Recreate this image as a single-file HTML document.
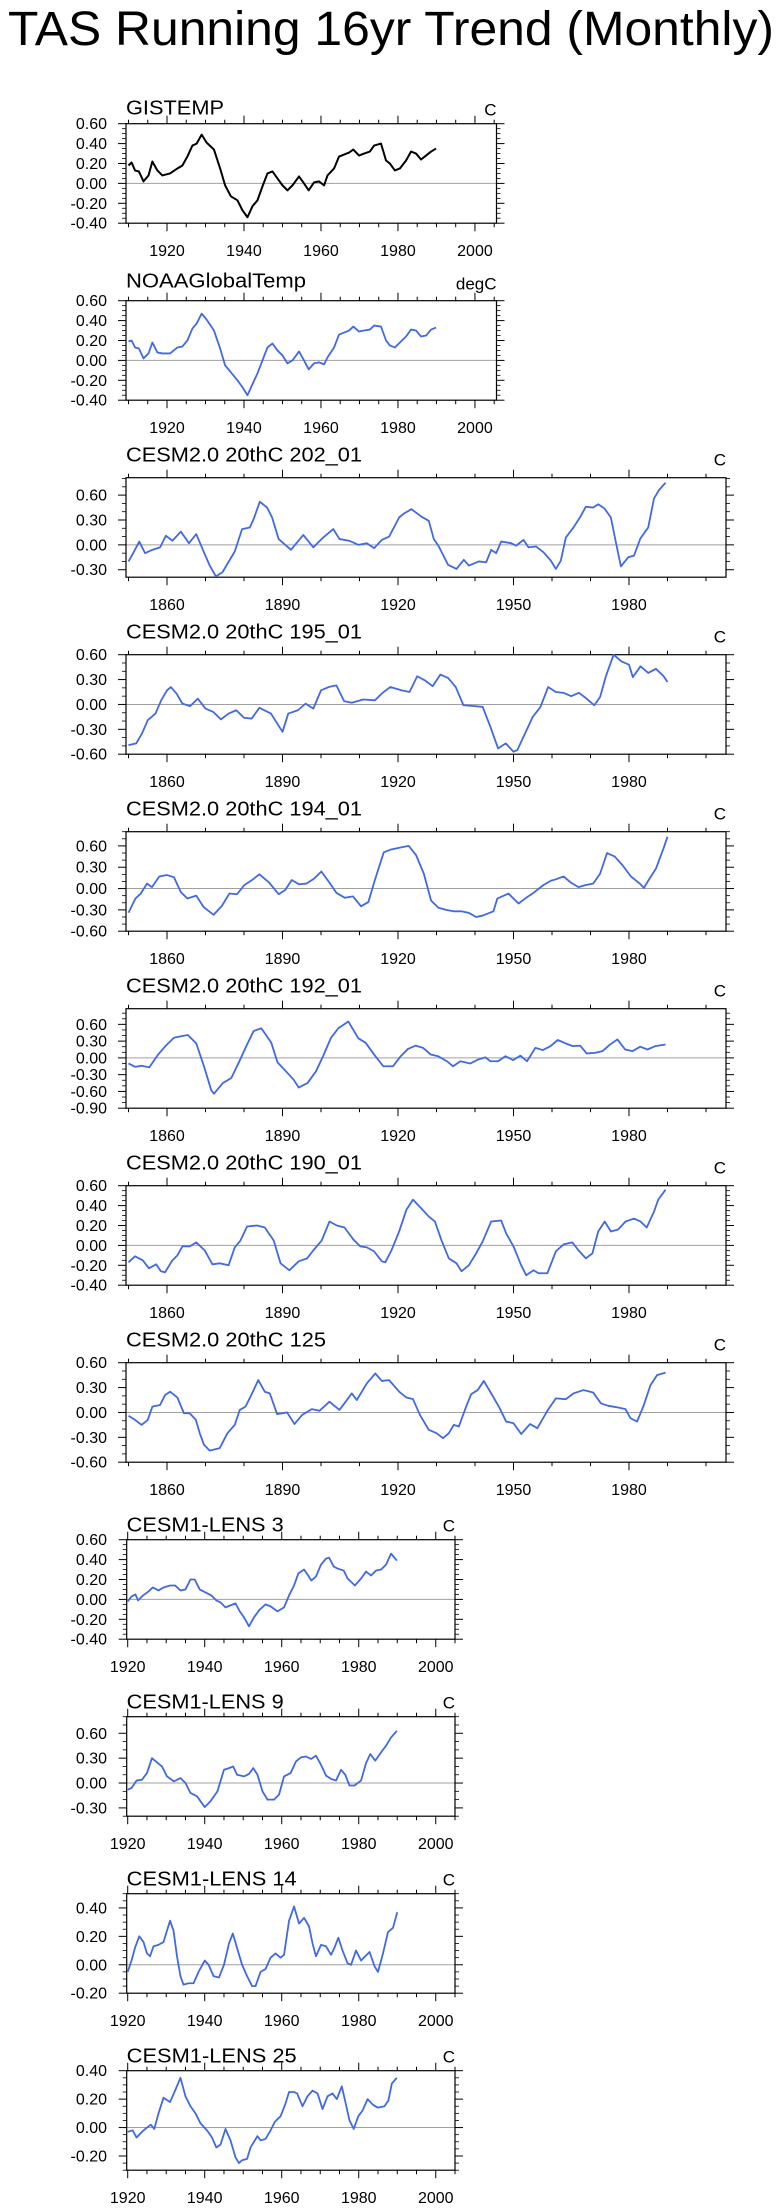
<!DOCTYPE html>
<html><head><meta charset="utf-8">
<style>
html,body{margin:0;padding:0;background:#fff;}
svg{display:block;font-family:"Liberation Sans",Arial,sans-serif;}
</style></head>
<body>
<svg id="chart" width="780" height="2210" viewBox="0 0 780 2210" xmlns="http://www.w3.org/2000/svg">
<text x="8" y="45" font-size="48" textLength="766" lengthAdjust="spacingAndGlyphs">TAS Running 16yr Trend (Monthly)</text>
</svg>
<script>
// ---- data (year, value) ----
const obsYears=[1910.0,1910.8,1911.7,1912.7,1913.9,1915.2,1916.2,1917.5,1918.8,1920.8,1922.7,1924.0,1925.3,1926.6,1927.7,1929.0,1930.3,1932.2,1933.8,1935.1,1936.6,1938.3,1939.6,1940.9,1942.2,1943.5,1944.8,1946.1,1947.4,1948.7,1950.0,1951.3,1952.6,1954.3,1955.6,1956.8,1958.2,1959.5,1960.8,1961.7,1963.4,1964.7,1966.0,1967.3,1968.4,1969.9,1971.2,1972.7,1973.8,1975.6,1976.9,1977.9,1979.2,1980.5,1982.1,1983.4,1984.7,1986.0,1987.3,1988.6,1989.9];
const gistempValues=[0.18,0.21,0.13,0.12,0.02,0.08,0.22,0.13,0.08,0.10,0.15,0.18,0.27,0.38,0.40,0.49,0.41,0.34,0.15,-0.02,-0.13,-0.17,-0.27,-0.34,-0.23,-0.17,-0.03,0.10,0.12,0.05,-0.02,-0.07,-0.02,0.07,0.00,-0.07,0.01,0.02,-0.02,0.08,0.15,0.27,0.29,0.31,0.34,0.28,0.30,0.32,0.38,0.40,0.23,0.20,0.13,0.15,0.23,0.32,0.30,0.24,0.28,0.32,0.35];
const noaaValues=[0.19,0.20,0.13,0.12,0.02,0.07,0.18,0.08,0.07,0.07,0.13,0.14,0.20,0.32,0.37,0.47,0.41,0.30,0.12,-0.05,-0.12,-0.20,-0.27,-0.35,-0.24,-0.13,0.00,0.13,0.17,0.10,0.05,-0.03,0.00,0.09,0.00,-0.09,-0.03,-0.02,-0.04,0.03,0.13,0.26,0.28,0.30,0.34,0.29,0.30,0.31,0.35,0.34,0.20,0.15,0.13,0.18,0.24,0.31,0.30,0.24,0.25,0.31,0.33];

const c202Years=[1850.0,1851.1,1852.8,1854.3,1856.2,1858.2,1859.7,1861.4,1863.6,1865.7,1867.6,1869.6,1871.1,1872.7,1874.4,1877.6,1879.5,1881.5,1882.5,1884.1,1886.0,1887.3,1889.0,1892.2,1895.4,1898.0,1900.6,1903.2,1904.8,1907.3,1909.7,1911.9,1913.8,1915.8,1917.7,1920.3,1921.6,1923.5,1926.1,1928.0,1929.3,1930.6,1933.0,1935.2,1937.1,1938.4,1941.0,1942.9,1944.2,1945.5,1946.8,1949.4,1950.7,1952.6,1953.9,1955.9,1957.8,1959.7,1961.0,1962.3,1963.6,1965.6,1967.5,1968.8,1970.7,1972.0,1973.6,1975.3,1976.6,1977.9,1979.8,1981.3,1983.0,1985.0,1986.5,1987.8,1989.5];
const c202Values=[-0.20,-0.11,0.04,-0.10,-0.06,-0.03,0.11,0.05,0.16,0.02,0.13,-0.09,-0.25,-0.38,-0.33,-0.08,0.19,0.21,0.31,0.52,0.45,0.33,0.07,-0.06,0.12,-0.03,0.09,0.19,0.07,0.05,0.00,0.02,-0.04,0.06,0.10,0.33,0.38,0.43,0.34,0.29,0.07,-0.02,-0.24,-0.29,-0.18,-0.25,-0.20,-0.21,-0.06,-0.10,0.04,0.02,-0.01,0.06,-0.03,-0.02,-0.09,-0.19,-0.29,-0.19,0.09,0.21,0.35,0.46,0.45,0.49,0.44,0.33,0.03,-0.26,-0.15,-0.13,0.08,0.21,0.56,0.66,0.75];

const c195Years=[1850,1852,1853.5,1855,1857,1858.5,1860,1861,1862.5,1864,1866,1868,1870,1872,1874,1876,1878,1880,1882,1884,1887,1890,1891.5,1894,1896,1898,1900,1902,1904,1906,1908,1911,1914,1916,1918,1921,1923,1925,1927,1929,1931,1933,1935,1937,1940,1942,1944,1946,1948,1950,1951,1953,1955,1957,1959,1961,1963,1965,1967,1969,1971,1972.5,1974,1976,1978,1980,1981,1983,1985,1987,1989,1990];
const c195Values=[-0.49,-0.47,-0.35,-0.19,-0.11,0.05,0.17,0.21,0.13,0.01,-0.02,0.07,-0.05,-0.09,-0.18,-0.11,-0.07,-0.16,-0.17,-0.04,-0.11,-0.33,-0.11,-0.07,0.01,-0.05,0.17,0.21,0.23,0.04,0.02,0.06,0.05,0.14,0.21,0.17,0.15,0.34,0.29,0.22,0.36,0.32,0.21,-0.01,-0.02,-0.03,-0.27,-0.53,-0.47,-0.57,-0.55,-0.35,-0.15,-0.03,0.21,0.15,0.14,0.10,0.14,0.07,-0.01,0.09,0.34,0.60,0.52,0.48,0.33,0.46,0.38,0.43,0.34,0.27];

const c194Years=[1850,1851.8,1853.2,1854.8,1856.1,1858,1860,1861.8,1863.6,1865.3,1867.6,1869.5,1872.1,1874.3,1876.2,1878.2,1880.1,1882.1,1884,1886.6,1889,1890.7,1892.4,1894.3,1896.2,1898.2,1900.1,1902.1,1904,1906.2,1908.3,1910.4,1912.3,1914,1916.3,1918.2,1920.8,1922.8,1924.7,1926.7,1928.6,1930.5,1932.5,1934.4,1936.4,1938.3,1940.3,1942,1944.8,1945.8,1948.7,1951.3,1953.3,1955.2,1957.8,1959.7,1961,1963,1965,1966.9,1968.8,1970.7,1972.5,1974.3,1976.3,1978.3,1980.5,1982.8,1983.9,1985,1987,1989,1990];
const c194Values=[-0.34,-0.14,-0.07,0.07,0.02,0.17,0.19,0.16,-0.05,-0.14,-0.10,-0.26,-0.37,-0.24,-0.07,-0.08,0.05,0.12,0.20,0.08,-0.08,-0.02,0.12,0.06,0.07,0.14,0.24,0.09,-0.06,-0.13,-0.11,-0.25,-0.19,0.12,0.51,0.55,0.58,0.60,0.47,0.21,-0.17,-0.27,-0.30,-0.32,-0.32,-0.34,-0.40,-0.38,-0.32,-0.14,-0.07,-0.21,-0.13,-0.06,0.05,0.11,0.13,0.17,0.08,0.02,0.05,0.07,0.21,0.50,0.45,0.33,0.17,0.07,0.01,0.11,0.28,0.57,0.73];

const c192Years=[1850,1851.7,1853.4,1855.4,1857.7,1859.7,1861.8,1863.8,1865.4,1867.6,1869.6,1871.5,1872.2,1874.5,1876.7,1878.6,1880.6,1882.5,1884.5,1887.1,1888.7,1890.9,1892.9,1894.2,1896.5,1898.7,1900.6,1902.6,1904.5,1907.1,1909.7,1911.6,1913.8,1916.2,1918.7,1920.7,1922.6,1924.6,1926.5,1928.5,1930.4,1932.7,1934.3,1936.2,1938.8,1940.8,1942.7,1944,1946,1947.9,1949.9,1951.8,1953.5,1955.7,1957.6,1959.6,1961.5,1963.5,1965.4,1967.3,1969,1971.2,1973.1,1975.1,1977,1979,1980.9,1982.9,1984.8,1986.8,1989.5];
const c192Values=[-0.10,-0.16,-0.14,-0.17,0.06,0.22,0.36,0.39,0.41,0.26,-0.15,-0.58,-0.64,-0.45,-0.36,-0.09,0.21,0.48,0.53,0.27,-0.08,-0.24,-0.39,-0.53,-0.45,-0.24,0.04,0.36,0.53,0.65,0.35,0.27,0.06,-0.15,-0.15,0.03,0.16,0.22,0.18,0.06,0.03,-0.06,-0.15,-0.06,-0.10,-0.03,0.01,-0.06,-0.06,0.03,-0.04,0.04,-0.06,0.18,0.14,0.21,0.32,0.26,0.21,0.22,0.08,0.09,0.12,0.24,0.33,0.15,0.12,0.20,0.15,0.21,0.24];

const c190Years=[1850.0,1851.7,1853.7,1855.3,1857.2,1858.4,1859.5,1861.4,1862.7,1864.0,1865.9,1867.6,1869.8,1871.8,1873.7,1876.0,1877.6,1879.1,1880.8,1883.4,1885.4,1887.7,1889.5,1891.8,1894.2,1896.4,1898.0,1900.2,1902.2,1904.1,1906.1,1908.4,1910.2,1911.9,1913.8,1915.8,1916.7,1918.3,1920.3,1922.2,1923.9,1926.1,1928.0,1929.6,1931.3,1933.2,1935.2,1936.5,1938.4,1940.3,1942.0,1944.2,1946.8,1948.1,1950.0,1952.0,1953.3,1955.2,1956.5,1958.8,1961.0,1963.0,1965.3,1966.9,1968.8,1970.5,1972.0,1973.7,1975.3,1977.2,1979.1,1981.3,1983.0,1984.6,1986.5,1987.6,1989.5];
const c190Values=[-0.17,-0.11,-0.15,-0.23,-0.19,-0.26,-0.27,-0.15,-0.10,-0.01,-0.01,0.03,-0.05,-0.19,-0.18,-0.20,-0.02,0.05,0.19,0.20,0.18,0.05,-0.18,-0.25,-0.16,-0.13,-0.05,0.05,0.24,0.20,0.18,0.06,-0.01,-0.02,-0.06,-0.16,-0.17,-0.05,0.14,0.36,0.46,0.37,0.29,0.24,0.05,-0.13,-0.18,-0.26,-0.20,-0.08,0.04,0.24,0.25,0.12,-0.01,-0.20,-0.30,-0.25,-0.28,-0.28,-0.06,0.01,0.03,-0.05,-0.13,-0.08,0.14,0.24,0.14,0.16,0.24,0.27,0.24,0.18,0.34,0.46,0.56];

const c125Years=[1850.0,1851.7,1853.4,1855.0,1856.2,1858.2,1859.5,1860.8,1862.7,1864.4,1865.9,1867.5,1868.5,1869.6,1871.1,1873.7,1875.7,1877.6,1878.9,1880.4,1882.1,1883.7,1885.4,1886.7,1888.6,1891.2,1893.1,1895.1,1897.6,1899.6,1902.2,1904.8,1908.0,1909.3,1911.9,1914.1,1915.8,1917.7,1920.3,1922.2,1923.9,1925.7,1928.0,1930.0,1931.7,1933.2,1934.5,1935.8,1937.7,1939.0,1940.7,1942.3,1944.2,1946.2,1948.1,1950.0,1952.0,1954.3,1956.2,1958.8,1961.0,1963.6,1965.6,1968.2,1970.7,1972.7,1974.6,1977.2,1979.1,1980.4,1982.1,1983.7,1985.6,1987.3,1989.5];
const c125Values=[-0.04,-0.09,-0.15,-0.09,0.07,0.09,0.21,0.25,0.18,-0.01,-0.01,-0.09,-0.25,-0.39,-0.46,-0.43,-0.25,-0.15,0.03,0.07,0.23,0.39,0.25,0.23,-0.02,0.00,-0.14,-0.03,0.04,0.02,0.13,0.03,0.23,0.15,0.35,0.47,0.38,0.39,0.25,0.18,0.16,-0.03,-0.21,-0.25,-0.31,-0.25,-0.15,-0.17,0.07,0.22,0.27,0.38,0.23,0.07,-0.11,-0.13,-0.26,-0.14,-0.19,0.02,0.17,0.16,0.23,0.27,0.24,0.11,0.08,0.06,0.04,-0.07,-0.11,0.07,0.33,0.45,0.48];

const l3Years=[1920,1921,1922,1922.7,1924,1925.4,1926.5,1928,1929.3,1931,1932.3,1933.7,1935,1936.3,1937.4,1938.7,1940.2,1941.7,1943,1944.1,1945.4,1946.7,1948,1949.1,1950.2,1951.5,1952.8,1954.1,1955.8,1957.1,1958.9,1960.6,1961.9,1963.2,1964.3,1965.8,1966.7,1967.7,1968.9,1970.2,1971.5,1972.3,1973.5,1974.5,1976.1,1977.1,1979,1980.6,1981.9,1983.2,1984.5,1985.8,1987.1,1988.4,1989.9];
const l3Values=[-0.02,0.03,0.05,-0.01,0.04,0.08,0.12,0.09,0.12,0.14,0.14,0.09,0.10,0.20,0.20,0.10,0.07,0.04,-0.01,-0.03,-0.08,-0.06,-0.04,-0.12,-0.18,-0.27,-0.18,-0.11,-0.05,-0.07,-0.12,-0.08,0.04,0.14,0.26,0.30,0.25,0.19,0.23,0.35,0.41,0.42,0.33,0.31,0.29,0.21,0.14,0.21,0.28,0.24,0.29,0.30,0.35,0.46,0.39];

const l9Years=[1920,1921,1922.3,1923.7,1925,1926.3,1927.6,1928.9,1930.2,1932,1933.7,1935,1936.3,1938,1940,1941.5,1943.3,1945,1946.3,1947.4,1948.4,1950.2,1951.5,1952.6,1953.7,1955,1956.3,1958,1959.3,1960.6,1962.3,1963.7,1965,1966.3,1967.6,1968.9,1970.2,1971.5,1972.8,1974.1,1975.4,1976.5,1977.6,1978.9,1980.6,1981.9,1983,1984.3,1985.8,1987.1,1988.4,1989.9];
const l9Values=[-0.08,-0.06,0.03,0.04,0.12,0.30,0.25,0.20,0.08,0.02,0.06,0.00,-0.12,-0.16,-0.29,-0.22,-0.10,0.16,0.18,0.20,0.10,0.08,0.11,0.18,0.10,-0.10,-0.20,-0.20,-0.14,0.08,0.12,0.26,0.31,0.32,0.29,0.33,0.22,0.09,0.05,0.03,0.16,0.10,-0.03,-0.03,0.03,0.24,0.35,0.27,0.37,0.45,0.55,0.63];

const l14Years=[1920,1921,1921.9,1923,1924.1,1925,1925.8,1926.7,1928,1929.3,1930.2,1931,1931.9,1932.8,1933.7,1934.5,1935.8,1937.1,1938.4,1940,1941,1942.3,1943.7,1945,1946.3,1947.3,1948.6,1949.7,1951,1952.3,1953.2,1954.5,1955.8,1957.1,1958.4,1959.7,1960.6,1961.9,1963.2,1964.5,1965.8,1967.1,1968,1968.9,1970.2,1971.5,1972.8,1973.7,1974.7,1975.8,1977.1,1978,1979.3,1980.6,1982.8,1984.1,1985,1986.3,1987.6,1988.9,1990];
const l14Values=[-0.05,0.03,0.12,0.20,0.16,0.08,0.06,0.13,0.14,0.16,0.24,0.31,0.24,0.06,-0.08,-0.14,-0.13,-0.13,-0.05,0.03,0.00,-0.08,-0.09,0.00,0.15,0.22,0.10,0.00,-0.08,-0.15,-0.15,-0.05,-0.03,0.05,0.08,0.05,0.07,0.31,0.41,0.29,0.33,0.27,0.15,0.06,0.14,0.13,0.07,0.12,0.19,0.10,0.01,0.00,0.10,0.03,0.09,-0.01,-0.05,0.08,0.23,0.26,0.37];

const l25Years=[1920,1921.3,1922.3,1923.7,1925,1926,1926.9,1928,1929.3,1931,1932.3,1933.7,1935,1936.3,1937.6,1938.9,1940.6,1941.9,1943,1944.1,1945.4,1946.7,1948,1948.9,1949.7,1951,1951.9,1953.7,1954.5,1955.8,1957.1,1958.2,1959.7,1961,1961.9,1963.2,1964,1965.4,1966.7,1968,1969.3,1970.6,1971.9,1973.2,1974.3,1975.6,1976.7,1977.6,1978.7,1979.9,1981,1982.3,1983.7,1985,1986.7,1987.7,1988.6,1989.9];
const l25Values=[-0.03,-0.02,-0.07,-0.03,0.00,0.02,-0.01,0.10,0.21,0.18,0.26,0.35,0.22,0.15,0.10,0.03,-0.02,-0.07,-0.14,-0.12,-0.01,-0.09,-0.21,-0.25,-0.23,-0.22,-0.14,-0.06,-0.09,-0.08,-0.02,0.04,0.08,0.17,0.25,0.25,0.24,0.15,0.22,0.26,0.24,0.13,0.22,0.24,0.20,0.29,0.16,0.05,-0.01,0.08,0.12,0.20,0.16,0.14,0.15,0.19,0.31,0.35];

const panelTitles=["GISTEMP","NOAAGlobalTemp","CESM2.0 20thC 202_01","CESM2.0 20thC 195_01","CESM2.0 20thC 194_01","CESM2.0 20thC 192_01","CESM2.0 20thC 190_01","CESM2.0 20thC 125","CESM1-LENS 3","CESM1-LENS 9","CESM1-LENS 14","CESM1-LENS 25"];
const panelUnits=["C","degC","C","C","C","C","C","C","C","C","C","C"];
const yMins=[-0.4,-0.4,-0.39,-0.6,-0.6,-0.9,-0.4,-0.6,-0.4,-0.4,-0.2,-0.3];
const yMaxs=[0.6,0.6,0.81,0.6,0.8,0.88,0.6,0.6,0.6,0.8,0.5,0.4];
const yMajorSteps=[0.2,0.2,0.3,0.3,0.3,0.3,0.2,0.3,0.2,0.3,0.2,0.2];
const seriesYears=[obsYears,obsYears,c202Years,c195Years,c194Years,c192Years,c190Years,c125Years,l3Years,l9Years,l14Years,l25Years];
const seriesValues=[gistempValues,noaaValues,c202Values,c195Values,c194Values,c192Values,c190Values,c125Values,l3Values,l9Values,l14Values,l25Values];

// ---- layout ----
const NS="http://www.w3.org/2000/svg";
const svg=document.getElementById('chart');
function mk(tag,attrs,parent){const e=document.createElementNS(NS,tag);for(const k in attrs)e.setAttribute(k,attrs[k]);(parent||svg).appendChild(e);return e;}

const kinds=["obs","obs","cesm2","cesm2","cesm2","cesm2","cesm2","cesm2","lens","lens","lens","lens"];
const layouts={
  obs:{x0:126,x1:496.5,yr0:1909.35,yr1:2005.6,xMajStart:1920,xMajStep:20,xMinStep:5,xMinStart:1910,titleDy:-9},
  cesm2:{x0:126,x1:726,yr0:1849.35,yr1:2005.2,xMajStart:1860,xMajStep:30,xMinStep:10,xMinStart:1850,titleDy:-16},
  lens:{x0:126.7,x1:455,yr0:1919.74,yr1:2005.0,xMajStart:1920,xMajStep:20,xMinStep:5,xMinStart:1920,titleDy:-8}
};
const titleLens=[98,180,236,236,236,236,236,200,157,157,170,170];

for(let i=0;i<12;i++){
  const L=layouts[kinds[i]];
  const top=123.7+177*i, bot=top+99.5;
  const ymin=yMins[i], ymax=yMaxs[i], step=yMajorSteps[i];
  const xs=yr=>L.x0+(yr-L.yr0)/(L.yr1-L.yr0)*(L.x1-L.x0);
  const ys=v=>bot-(v-ymin)/(ymax-ymin)*(bot-top);
  const g=mk('g',{});
  
  

  const t=mk('text',{x:L.x0,y:top+(i==1?-13:L.titleDy),'font-size':20,textLength:titleLens[i],lengthAdjust:'spacingAndGlyphs'},g);
  t.textContent=panelTitles[i];
  
  
  const u=mk('text',{x:L.x1,y:top+(kinds[i]=="cesm2"?-12:(i==1?-11:-8)),'font-size':17,'text-anchor':'end'},g);
  u.textContent=panelUnits[i];
  
  

  // zero line
  const z=mk('line',{x1:L.x0,x2:L.x1,y1:ys(0),y2:ys(0),stroke:'#a0a0a0','stroke-width':1},g);
  
  

  // y ticks
  const minorStep=step===0.3?0.1:0.05;
  for(let v=Math.ceil((ymin-1e-6)/minorStep)*minorStep; v<=ymax+1e-6; v+=minorStep){
    const isMaj=Math.abs(v/step-Math.round(v/step))<1e-4;
    const y=ys(v), len=isMaj?8:4;
    mk('line',{x1:L.x0-len,x2:L.x0,y1:y,y2:y,stroke:'#000','stroke-width':isMaj?1:0.8},g);
    mk('line',{x1:L.x1,x2:L.x1+len,y1:y,y2:y,stroke:'#000','stroke-width':isMaj?1:0.8},g);
    if(isMaj){
      const lb=mk('text',{x:107,y:y+5.5,'font-size':16,'text-anchor':'end'},g);
      const vv=Math.round(v/step)*step;
      lb.textContent=(Math.abs(vv)<1e-9?0:vv).toFixed(2);
      
      
    }
  }
  // x ticks
  for(let yr=L.xMinStart; yr<=L.yr1; yr+=L.xMinStep){
    const isMaj=(yr-L.xMajStart)%L.xMajStep===0 && yr>=L.xMajStart;
    const x=xs(yr), len=isMaj?8:4;
    mk('line',{x1:x,x2:x,y1:bot,y2:bot+len,stroke:'#000','stroke-width':1},g);
    mk('line',{x1:x,x2:x,y1:top-len,y2:top,stroke:'#000','stroke-width':1},g);
    if(isMaj){
      const lb=mk('text',{x:x,y:bot+33,'font-size':16,'text-anchor':'middle'},g);
      lb.textContent=yr;
      
      
    }
  }
  // frame
  const fr=mk('rect',{x:L.x0,y:top,width:L.x1-L.x0,height:bot-top,fill:'none',stroke:'#000','stroke-width':1.2},g);
  
  

  // series
  const yrs=seriesYears[i], vals=seriesValues[i];
  let d='';
  for(let k=0;k<yrs.length;k++) d+=(k?'L':'M')+xs(yrs[k]).toFixed(2)+','+ys(vals[k]).toFixed(2);
  const p=mk('path',{d:d,fill:'none',stroke:i===0?'#000':'#4169e1','stroke-width':i===0?2:1.8,'stroke-linejoin':'round'},g);
  
  
}
</script>
</body></html>
